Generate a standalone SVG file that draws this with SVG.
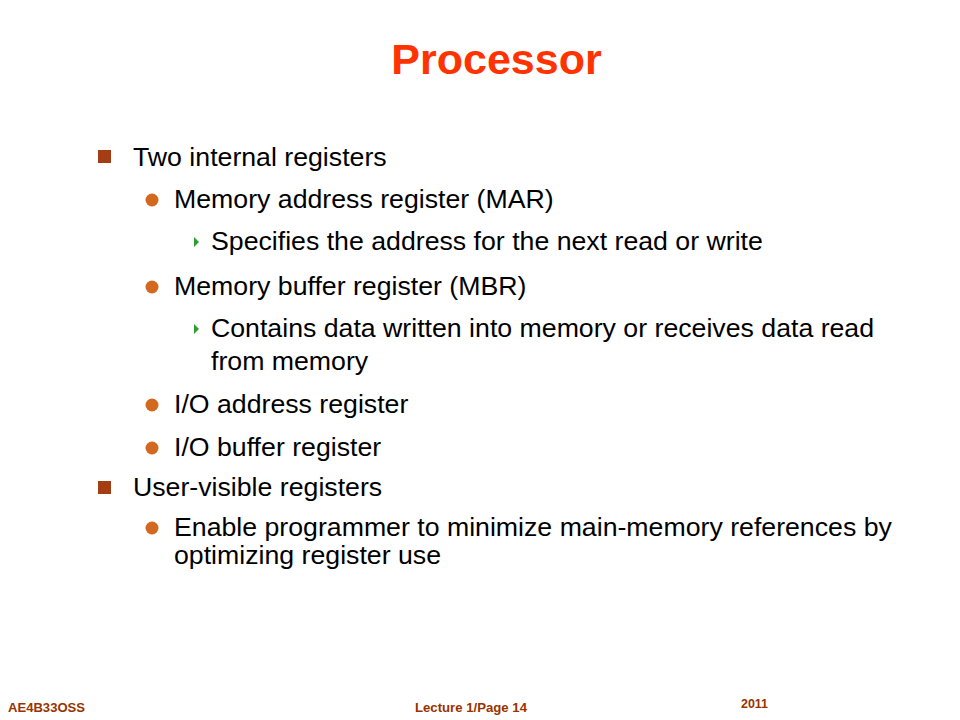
<svg xmlns="http://www.w3.org/2000/svg" width="960" height="720" viewBox="0 0 960 720">
<defs>
<style>
.t{font-family:"Liberation Sans",Arial,sans-serif;font-size:26.7px;fill:#000}
.title{font-family:"Liberation Sans",Arial,sans-serif;font-size:43px;font-weight:bold;fill:#FF3300}
.f{font-family:"Liberation Sans",Arial,sans-serif;font-size:12px;font-weight:bold;fill:#993300}
.sq{fill:#A43C14}
.dot{fill:#D2691E}
.tri{fill:#2E9E2E}
</style>
</defs>
<rect width="960" height="720" fill="#fff"/>
<text class="title" x="496.5" y="74" text-anchor="middle">Processor</text>
<g id="bullets">
<rect class="sq" x="98" y="150" width="13" height="13"/>
<text class="t" x="133" y="166">Two internal registers</text>
<circle class="dot" cx="152" cy="200" r="6.5"/>
<text class="t" x="174" y="208">Memory address register (MAR)</text>
<path class="tri" d="M194,237 L199,242 L194,247 Z"/>
<text class="t" x="211" y="250">Specifies the address for the next read or write</text>
<circle class="dot" cx="152" cy="287" r="6.5"/>
<text class="t" x="174" y="295">Memory buffer register (MBR)</text>
<path class="tri" d="M194,324 L199,329 L194,334 Z"/>
<text class="t" x="211" y="337">Contains data written into memory or receives data read</text>
<text class="t" x="211" y="370">from memory</text>
<circle class="dot" cx="152" cy="405" r="6.5"/>
<text class="t" x="174" y="413">I/O address register</text>
<circle class="dot" cx="152" cy="448" r="6.5"/>
<text class="t" x="174" y="456">I/O buffer register</text>
<rect class="sq" x="98" y="481" width="13" height="13"/>
<text class="t" x="133" y="496">User-visible registers</text>
<circle class="dot" cx="152" cy="528" r="6.5"/>
<text class="t" x="174" y="536">Enable programmer to minimize main-memory references by</text>
<text class="t" x="174" y="564">optimizing register use</text>
</g>
<g id="footer">
<text class="f" x="8" y="712" textLength="77" lengthAdjust="spacingAndGlyphs">AE4B33OSS</text>
<text class="f" x="415" y="712" textLength="112" lengthAdjust="spacingAndGlyphs">Lecture  1/Page 14</text>
<text class="f" x="741" y="708" textLength="27" lengthAdjust="spacingAndGlyphs">2011</text>
</g>
</svg>
